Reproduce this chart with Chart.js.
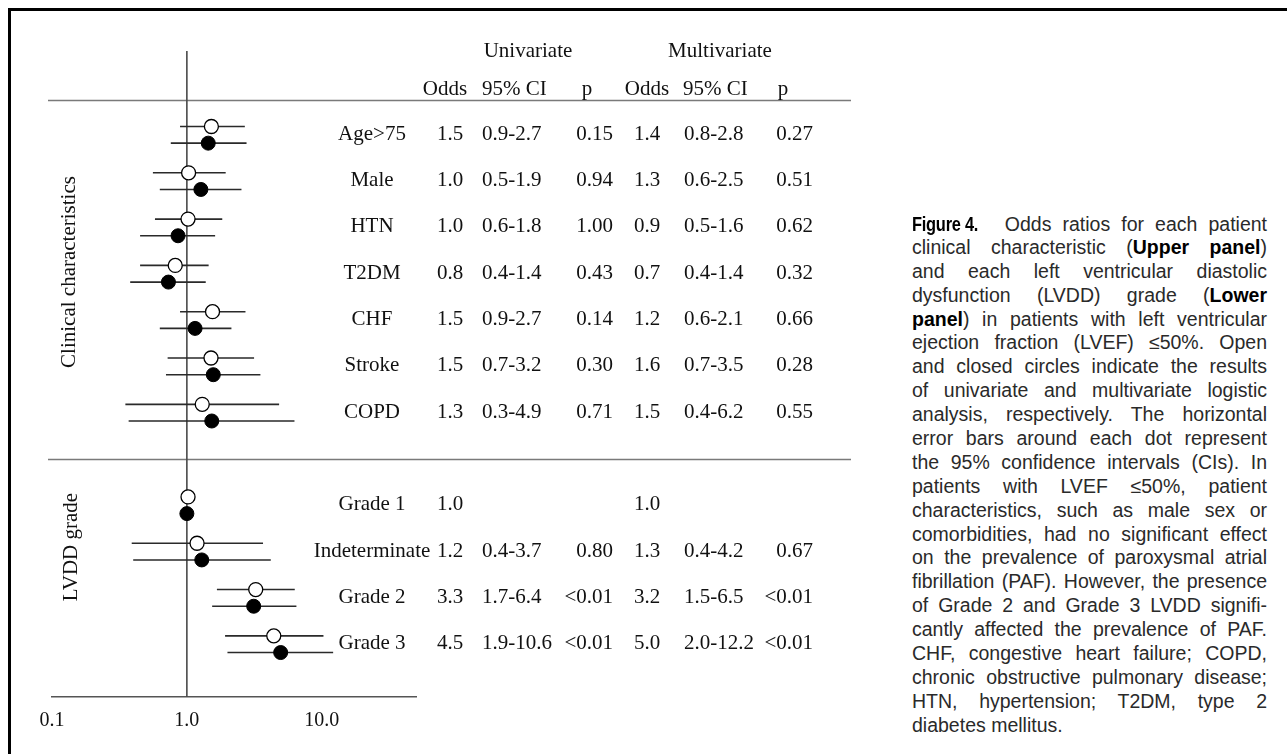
<!DOCTYPE html>
<html>
<head>
<meta charset="utf-8">
<script src="https://cdn.jsdelivr.net/npm/chart.js@4.4.1/dist/chart.umd.min.js"></script>
<style>
  html, body { margin: 0; padding: 0; background: #fff; overflow: hidden; }
  body { width: 1287px; height: 754px; position: relative; }
  #frame { position: absolute; left: 8px; top: 8px; width: 1400px; height: 900px;
           border-left: 3px solid #000; border-top: 3px solid #000; }
  #wrap { position: absolute; left: 0; top: 0; width: 870px; height: 754px; }
  #chart { position: absolute; left: 0; top: 0; }
  .t { position: absolute; font-family: 'Liberation Serif', 'Times New Roman', serif;
       font-size: 21px; line-height: 24px; height: 24px; color: #111; white-space: nowrap; }
  .rot { position: absolute; font-family: 'Liberation Serif', 'Times New Roman', serif;
         font-size: 21px; line-height: 24px; color: #111; white-space: nowrap;
         transform: translate(-50%, -50%) rotate(-90deg); }
  #caption { position: absolute; left: 912px; top: 212px; width: 355px;
             font-family: 'Liberation Sans', Arial, Helvetica, sans-serif;
             font-size: 19.5px; line-height: 23.9px; color: #2a2a2a; }
  #caption div { white-space: nowrap; text-align: justify; text-align-last: justify; height: 23.9px; }
  #caption div.last { text-align-last: left; }
  #caption b { font-weight: bold; color: #000; }
  .fig { display: inline-block; font-family: 'Liberation Sans', Arial, sans-serif;
         font-weight: bold; font-size: 20.5px; color: #000; letter-spacing: -0.3px;
         transform: scaleX(0.8); transform-origin: left center; margin-right: -12px; }
</style>
</head>
<body>
<div id="frame"></div>
<div id="wrap">
  <canvas id="chart" width="870" height="754"></canvas>
</div>
<div id="caption">
  <div><span class="fig">Figure 4.</span>&nbsp; Odds ratios for each patient</div>
  <div>clinical characteristic (<b>Upper panel</b>)</div>
  <div>and each left ventricular diastolic</div>
  <div>dysfunction (LVDD) grade (<b>Lower</b></div>
  <div><b>panel</b>) in patients with left ventricular</div>
  <div>ejection fraction (LVEF) ≤50%. Open</div>
  <div>and closed circles indicate the results</div>
  <div>of univariate and multivariate logistic</div>
  <div>analysis, respectively. The horizontal</div>
  <div>error bars around each dot represent</div>
  <div>the 95% confidence intervals (CIs). In</div>
  <div>patients with LVEF ≤50%, patient</div>
  <div>characteristics, such as male sex or</div>
  <div>comorbidities, had no significant effect</div>
  <div>on the prevalence of paroxysmal atrial</div>
  <div>fibrillation (PAF). However, the presence</div>
  <div>of Grade 2 and Grade 3 LVDD signifi-</div>
  <div>cantly affected the prevalence of PAF.</div>
  <div>CHF, congestive heart failure; COPD,</div>
  <div>chronic obstructive pulmonary disease;</div>
  <div>HTN, hypertension; T2DM, type 2</div>
  <div class="last">diabetes mellitus.</div>
</div>
<script>
// rows: clinical characteristics, then a blank row, then LVDD grades
const clinicalLabels = ['Age>75', 'Male', 'HTN', 'T2DM', 'CHF', 'Stroke', 'COPD'];
const lvddLabels     = ['Grade 1', 'Indeterminate', 'Grade 2', 'Grade 3'];
const labels = [...clinicalLabels, ...lvddLabels];

// plotted odds ratios and 95% CI
const uniOR    = [1.52, 1.03, 1.02, 0.82, 1.55, 1.51, 1.30, 1.02, 1.19, 3.24, 4.41];
const uniLow   = [0.89, 0.56, 0.58, 0.45, 0.89, 0.72, 0.35, null, 0.39, 1.67, 1.92];
const uniHigh  = [2.69, 1.94, 1.83, 1.45, 2.72, 3.15, 4.83, null, 3.67, 6.31, 10.3];
const multiOR   = [1.44, 1.27, 0.86, 0.73, 1.15, 1.57, 1.53, 1.00, 1.29, 3.13, 4.96];
const multiLow  = [0.76, 0.63, 0.45, 0.38, 0.63, 0.70, 0.37, null, 0.40, 1.54, 2.00];
const multiHigh = [2.77, 2.54, 1.62, 1.38, 2.14, 3.51, 6.28, null, 4.19, 6.49, 12.15];

// table text
const uniOddsTxt   = ['1.5', '1.0', '1.0', '0.8', '1.5', '1.5', '1.3', '1.0', '1.2', '3.3', '4.5'];
const uniCiTxt     = ['0.9-2.7', '0.5-1.9', '0.6-1.8', '0.4-1.4', '0.9-2.7', '0.7-3.2', '0.3-4.9', '', '0.4-3.7', '1.7-6.4', '1.9-10.6'];
const uniPTxt      = ['0.15', '0.94', '1.00', '0.43', '0.14', '0.30', '0.71', '', '0.80', '<0.01', '<0.01'];
const multiOddsTxt = ['1.4', '1.3', '0.9', '0.7', '1.2', '1.6', '1.5', '1.0', '1.3', '3.2', '5.0'];
const multiCiTxt   = ['0.8-2.8', '0.6-2.5', '0.5-1.6', '0.4-1.4', '0.6-2.1', '0.7-3.5', '0.4-6.2', '', '0.4-4.2', '1.5-6.5', '2.0-12.2'];
const multiPTxt    = ['0.27', '0.51', '0.62', '0.32', '0.66', '0.28', '0.55', '', '0.67', '<0.01', '<0.01'];

const xTicks = [0.1, 1, 10];

const Y_MIN = -1.81, Y_MAX = 12.14;   // row units, top of ref line to axis
const OFF = 0.18;                     // open circle above, closed below
const SERIF = "'Liberation Serif', 'Times New Roman', serif";

const rowOf = i => i < clinicalLabels.length ? i : i + 1;

function ciSegments(lo, hi, off) {
  const pts = [];
  labels.forEach((_, i) => {
    if (lo[i] == null) return;
    const y = rowOf(i) + off;
    pts.push({ x: lo[i], y: y }, { x: hi[i], y: y }, { x: null, y: null });
  });
  return pts;
}

const sepLines = {
  id: 'sepLines',
  beforeDatasetsDraw(chart) {
    const y = chart.scales.y, c = chart.ctx;
    c.save();
    c.strokeStyle = '#7a7a7a';
    c.lineWidth = 1.6;
    [-0.756, 7].forEach(r => {
      const py = Math.round(y.getPixelForValue(r)) + 0.5;
      c.beginPath();
      c.moveTo(48, py);
      c.lineTo(851, py);
      c.stroke();
    });
    c.restore();
  }
};

const chart = new Chart(document.getElementById('chart'), {
  type: 'line',
  data: {
    datasets: [
      {
        label: 'Univariate',
        data: labels.map((_, i) => ({ x: uniOR[i], y: rowOf(i) - OFF })),
        showLine: false,
        pointRadius: 7,
        pointBackgroundColor: '#fff',
        pointBorderColor: '#000',
        pointBorderWidth: 1.3,
        order: 0
      },
      {
        label: 'Multivariate',
        data: labels.map((_, i) => ({ x: multiOR[i], y: rowOf(i) + OFF })),
        showLine: false,
        pointRadius: 7,
        pointBackgroundColor: '#000',
        pointBorderColor: '#000',
        pointBorderWidth: 1,
        order: 0
      },
      {
        label: 'Univariate CI',
        data: ciSegments(uniLow, uniHigh, -OFF),
        borderColor: '#2a2a2a',
        borderWidth: 1.6,
        pointRadius: 0,
        spanGaps: false,
        order: 1
      },
      {
        label: 'Multivariate CI',
        data: ciSegments(multiLow, multiHigh, OFF),
        borderColor: '#2a2a2a',
        borderWidth: 1.6,
        pointRadius: 0,
        spanGaps: false,
        order: 1
      },
      {
        label: 'OR = 1',
        data: [{ x: 1, y: Y_MIN }, { x: 1, y: Y_MAX }],
        borderColor: '#4a4a4a',
        borderWidth: 1.6,
        pointRadius: 0,
        order: 2
      }
    ]
  },
  options: {
    responsive: false,
    animation: false,
    events: [],
    clip: false,
    layout: { padding: { left: 52, right: 454, top: 51, bottom: 9 } },
    plugins: { legend: { display: false }, tooltip: { enabled: false } },
    scales: {
      x: {
        type: 'logarithmic',
        min: 0.1,
        max: 50,
        grid: { display: false, drawTicks: false },
        border: { display: true, color: '#555', width: 1.6 },
        afterBuildTicks: s => { s.ticks = xTicks.map(v => ({ value: v })); },
        ticks: {
          autoSkip: false,
          maxRotation: 0,
          padding: 12,
          color: '#111',
          font: { family: SERIF, size: 20 },
          callback: v => Number(v).toFixed(1)
        }
      },
      y: { type: 'linear', display: false, reverse: true, min: Y_MIN, max: Y_MAX }
    }
  },
  plugins: [sepLines]
});

// table text, placed on the chart's row scale
const wrap = document.getElementById('wrap');
function place(txt, x, y, align) {
  const d = document.createElement('div');
  d.className = 't';
  d.textContent = txt;
  d.style.top = (y - 12) + 'px';
  if (align === 'center') { d.style.left = (x - 100) + 'px'; d.style.width = '200px'; d.style.textAlign = 'center'; }
  else if (align === 'right') { d.style.left = (x - 200) + 'px'; d.style.width = '200px'; d.style.textAlign = 'right'; }
  else { d.style.left = x + 'px'; }
  wrap.appendChild(d);
}

const ys = chart.scales.y;
place('Univariate', 528, ys.getPixelForValue(-1.83), 'center');
place('Multivariate', 720, ys.getPixelForValue(-1.83), 'center');
const headY = ys.getPixelForValue(-1.02);
place('Odds', 445, headY, 'center');
place('95% CI', 482, headY, 'left');
place('p', 587, headY, 'center');
place('Odds', 647, headY, 'center');
place('95% CI', 683, headY, 'left');
place('p', 783, headY, 'center');

labels.forEach((lab, i) => {
  const y = ys.getPixelForValue(rowOf(i)) - 2;
  place(lab, 372, y, 'center');
  place(uniOddsTxt[i], 450, y, 'center');
  if (uniCiTxt[i]) place(uniCiTxt[i], 482, y, 'left');
  if (uniPTxt[i]) place(uniPTxt[i], 613, y, 'right');
  place(multiOddsTxt[i], 647, y, 'center');
  if (multiCiTxt[i]) place(multiCiTxt[i], 684, y, 'left');
  if (multiPTxt[i]) place(multiPTxt[i], 813, y, 'right');
});

// group labels down the left side
function groupLabel(txt, x, y) {
  const d = document.createElement('div');
  d.className = 'rot';
  d.textContent = txt;
  d.style.left = x + 'px';
  d.style.top = y + 'px';
  wrap.appendChild(d);
}
groupLabel('Clinical characteristics', 68, 272);
groupLabel('LVDD grade', 70, 547);
</script>
</body>
</html>
